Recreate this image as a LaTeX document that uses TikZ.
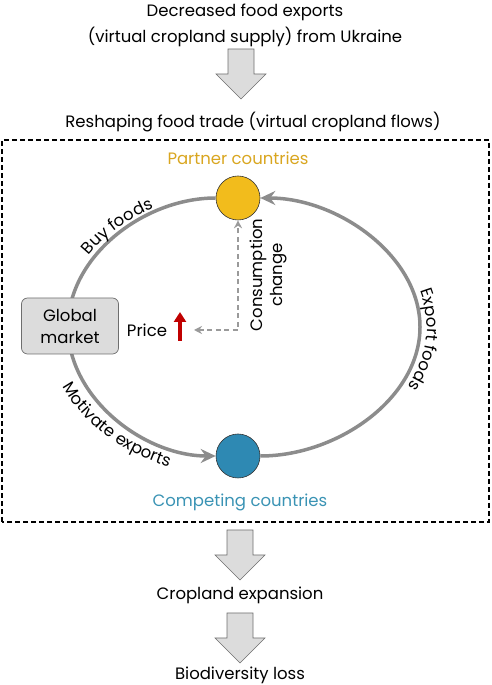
\documentclass[tikz,border=0pt]{standalone}
\usepackage{fontspec}
\setmainfont{Poppins}
\usetikzlibrary{arrows.meta,decorations.text}

\definecolor{loopgray}{HTML}{8C8C8C}
\definecolor{dashgray}{HTML}{9A9A9A}
\definecolor{boxgray}{HTML}{DCDCDC}
\definecolor{edgegray}{HTML}{6E6E6E}
\definecolor{partnercol}{HTML}{F2BC1C}
\definecolor{partnertxt}{HTML}{D9A620}
\definecolor{competecol}{HTML}{2E89B3}
\definecolor{competetxt}{HTML}{3A93B4}
\definecolor{pricecol}{HTML}{C00000}

\newcommand{\lblfont}{\fontsize{16.5}{20}\selectfont}

\tikzset{
  loopline/.style={draw=loopgray, line width=3.5pt},
  looptip/.style={-{Stealth[length=15pt,width=14pt,inset=5pt]}},
  country/.style={circle, minimum size=44pt, inner sep=0pt, draw=black!80, line width=0.6pt},
  dashconn/.style={draw=dashgray, line width=2pt, dash pattern=on 5pt off 3.5pt},
  curvelbl/.style={decorate, decoration={text along path, text align=center}},
  downarr/.pic={
    \draw[fill=boxgray, draw=edgegray, line width=0.6pt]
      (-13,0) -- (-13,-25) -- (-25,-25) -- (0,-50) -- (25,-25) -- (13,-25) -- (13,0) -- cycle;
  }
}

\begin{document}
\begin{tikzpicture}[x=1pt,y=1pt,font=\lblfont]
\useasboundingbox (0,0) rectangle (491,685);

% chain of effects, top
\node[align=center, font=\fontsize{16.5}{26}\selectfont] (decrease) at (245,660)
  {Decreased food exports\\(virtual cropland supply) from Ukraine};
\pic at (241,636) {downarr};
\node (reshape) at (253,563) {Reshaping food trade (virtual cropland flows)};

% dashed frame
\draw[line width=1.3pt, dash pattern=on 5pt off 3pt] (2,163) rectangle (489,545);

% countries
\node[country, fill=partnercol] (partner) at (238,487) {};
\node[country, fill=competecol] (competing) at (238,229) {};
\node[text=partnertxt] (partnerlbl) at (238,527) {Partner countries};
\node[text=competetxt] (competinglbl) at (240,183) {Competing countries};

% trade loop
\coordinate (loopleft) at (68,358);
\coordinate (loopright) at (420,358);
\draw[loopline, looptip] (partner) .. controls +(-94,0) and +(0,71) .. (loopleft)
  .. controls +(0,-71) and +(-94,0) .. (competing);
\draw[loopline, looptip] (competing) .. controls +(100,0) and +(0,-71) .. (loopright)
  .. controls +(0,71) and +(100,0) .. (partner);

\node[draw=edgegray, fill=boxgray, rounded corners=6pt, line width=0.7pt,
  minimum width=97pt, minimum height=56pt, align=center,
  font=\fontsize{16.5}{22}\selectfont] (market) at (70,359) {Global\\market};

% curved labels
\path[curvelbl, decoration={text={|\lblfont|Buy foods}}]
  (238,358) ++(158:176 and 135) arc[start angle=158, end angle=110, x radius=176, y radius=135];
\path[curvelbl, decoration={text={|\lblfont|Motivate exports}}]
  (238,358) ++(192:191 and 150) arc[start angle=192, end angle=258, x radius=191, y radius=150];
\path[curvelbl, decoration={text={|\lblfont|Export foods}}]
  (238,358) ++(28:189 and 136) arc[start angle=28, end angle=-38, x radius=189, y radius=136];

% price and consumption
\node (price) at (147,355) {Price};
\coordinate (pricelo) at (180,344);
\coordinate (pricehi) at (180,373);
\draw[pricecol, line width=3.5pt, -{Triangle[length=10pt,width=12pt]}] (pricelo) -- (pricehi);
\coordinate (pricetip) at (194,355);
\draw[dashconn, {Stealth[length=8pt,width=8pt]}-{Stealth[length=8pt,width=8pt]}]
  (pricetip) -| (partner);
\node[rotate=90, align=center, font=\fontsize{16.5}{20}\selectfont] (consum) at (268,410)
  {Consumption\\change};

% chain of effects, bottom
\pic at (240,155) {downarr};
\node (cropland) at (240,90) {Cropland expansion};
\pic at (240,72) {downarr};
\node (biodiv) at (240,10) {Biodiversity loss};
\end{tikzpicture}
\end{document}
